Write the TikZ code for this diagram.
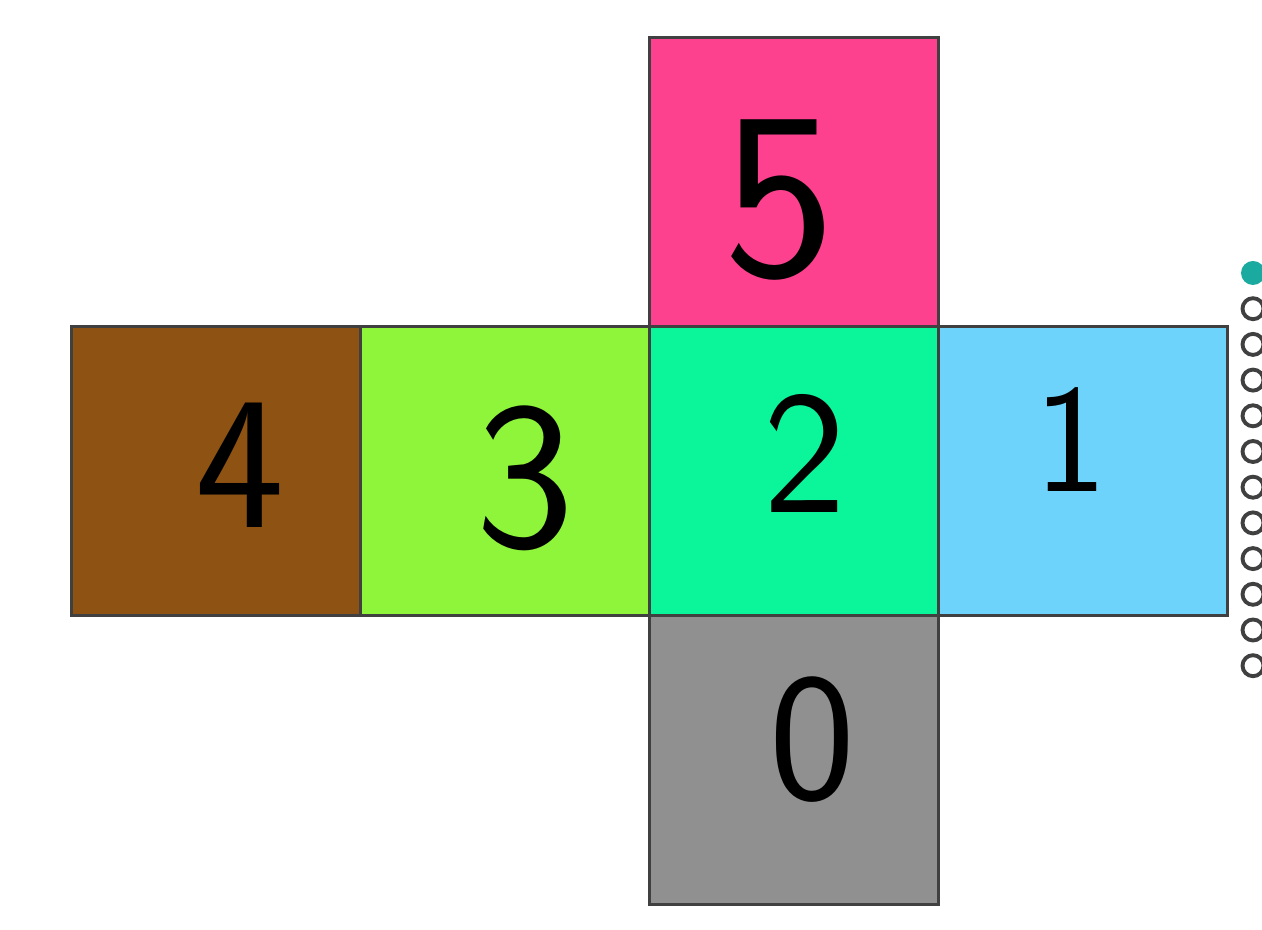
\documentclass[tikz,border=0pt]{standalone}
\usepackage{xcolor}
\usepackage{tikz}
\usetikzlibrary{positioning}
\definecolor{facepink}{HTML}{FE418F}
\definecolor{facebrown}{HTML}{8E5312}
\definecolor{facelime}{HTML}{8EF53B}
\definecolor{facemint}{HTML}{0BF59A}
\definecolor{facesky}{HTML}{6DD3FB}
\definecolor{facegray}{HTML}{909090}
\definecolor{dotteal}{HTML}{1AAAA0}

\begin{document}
\begin{tikzpicture}[
  face/.style={draw=black!75,line width=0.9pt,minimum size=2.89cm,outer sep=0pt,inner sep=0pt},
  digit/.style={font=\sffamily\fontsize{#1}{#1}\selectfont,inner sep=0pt},
  digit/.default=50,
  pagedot/.style={circle,draw=black!75,line width=1.1pt,minimum size=2.1mm,inner sep=0pt},
  node distance=0pt
]
\useasboundingbox (0,0) rectangle (12.62,9.30);
\node[face,fill=facemint] (f2) at (7.94,4.59) {};
\node[face,fill=facelime,left=of f2] (f3) {};
\node[face,fill=facebrown,left=of f3] (f4) {};
\node[face,fill=facesky,right=of f2] (f1) {};
\node[face,fill=facepink,above=of f2] (f5) {};
\node[face,fill=facegray,below=of f2] (f0) {};
\node[digit=68] (d5) at ([xshift=-0.14cm,yshift=-0.18cm]f5.center) {5};
\node[digit=54] (d4) at ([xshift=0.24cm,yshift=0.06cm]f4.center) {4};
\node[digit=60] (d3) at ([xshift=0.2cm,yshift=-0.07cm]f3.center) {3};
\node[digit] (d2) at ([xshift=0.11cm,yshift=0.18cm]f2.center) {2};
\node[digit=44] (d1) at ([xshift=-0.12cm,yshift=0.31cm]f1.center) {1};
\node[digit=52] (d0) at ([xshift=0.18cm,yshift=0.2cm]f0.center) {0};
% page dots on the right edge
\node[circle,fill=dotteal,minimum size=2.4mm,inner sep=0pt] (dot0) at (12.53,6.57) {};
\foreach \i in {1,...,11}
  \node[pagedot] (dot\i) at (12.53,{6.57-0.357*\i}) {};
\end{tikzpicture}
\end{document}
